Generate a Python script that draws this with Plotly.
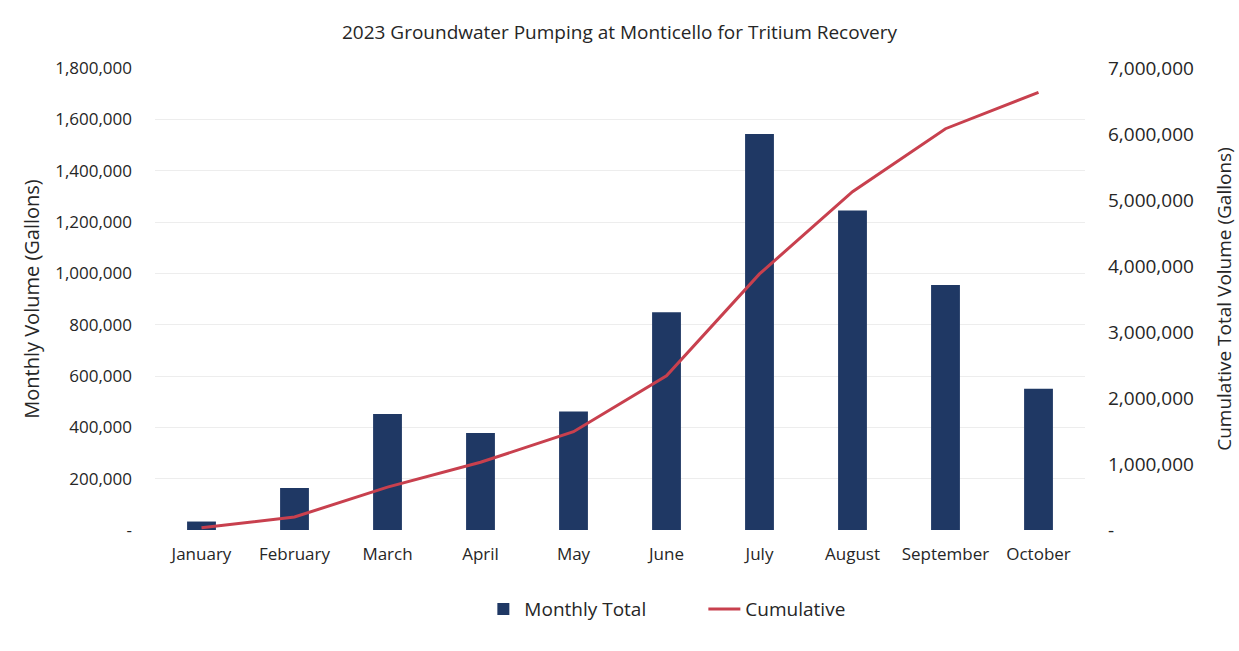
import plotly.graph_objects as go

months = ["January", "February", "March", "April", "May", "June",
          "July", "August", "September", "October"]
monthly_total = [33000, 164000, 452000, 378000, 462000, 848000,
                 1543000, 1245000, 955000, 550000]
cumulative = [33000, 197000, 649000, 1027000, 1489000, 2337000,
              3880000, 5125000, 6080000, 6630000]

left_ticks = [0, 200000, 400000, 600000, 800000, 1000000, 1200000,
              1400000, 1600000, 1800000]
left_labels = ["-", "200,000", "400,000", "600,000", "800,000", "1,000,000",
               "1,200,000", "1,400,000", "1,600,000", "1,800,000"]
right_ticks = [0, 1000000, 2000000, 3000000, 4000000, 5000000, 6000000, 7000000]
right_labels = ["-", "1,000,000", "2,000,000", "3,000,000", "4,000,000",
                "5,000,000", "6,000,000", "7,000,000"]

FONT = "Open Sans"
TEXT = "#262626"

fig = go.Figure()
fig.add_trace(go.Bar(
    x=months, y=monthly_total, name="Monthly Total",
    marker=dict(color="#1F3864", line=dict(width=0)),
    yaxis="y",
))
fig.add_trace(go.Scatter(
    x=months, y=cumulative, name="Cumulative", mode="lines",
    line=dict(color="#C8404E", width=3),
    yaxis="y2",
))

fig.update_layout(
    width=1239, height=651,
    margin=dict(l=155, r=154, t=68, b=121, autoexpand=False),
    paper_bgcolor="white", plot_bgcolor="white",
    font=dict(family=FONT, color=TEXT, size=16),
    title=dict(text="2023 Groundwater Pumping at Monticello for Tritium Recovery",
               x=0.5, xanchor="center", y=0.951, yanchor="middle",
               font=dict(size=19, color=TEXT, family=FONT)),
    bargap=0.69,
    showlegend=True,
    legend=dict(orientation="h", x=0.352, xanchor="left", y=-0.13, yanchor="top",
                font=dict(size=19, color=TEXT, family=FONT),
                itemwidth=32, entrywidth=174, entrywidthmode="pixels",
                traceorder="normal"),
    xaxis=dict(showgrid=False, showline=False, ticks="", zeroline=False,
               tickfont=dict(size=17, color=TEXT), range=[-0.5, 9.5],
               ticklabelstandoff=12, automargin=False),
    yaxis=dict(range=[0, 1800000], tickvals=left_ticks, ticktext=left_labels,
               showgrid=True, gridcolor="#EDEDED", gridwidth=1,
               zeroline=False, showline=False, ticks="",
               tickfont=dict(size=17, color=TEXT), ticklabelstandoff=22,
               automargin=False,
               title=dict(text="Monthly Volume (Gallons)",
                          font=dict(size=20, color=TEXT), standoff=10)),
    yaxis2=dict(range=[0, 7000000], tickvals=right_ticks, ticktext=right_labels,
                overlaying="y", side="right", showgrid=False,
                zeroline=False, showline=False, ticks="",
                tickfont=dict(size=19, color=TEXT), ticklabelstandoff=22,
                automargin=False,
                title=dict(text="Cumulative Total Volume (Gallons)",
                           font=dict(size=19, color=TEXT), standoff=24)),
)

fig.write_html("out.html")
